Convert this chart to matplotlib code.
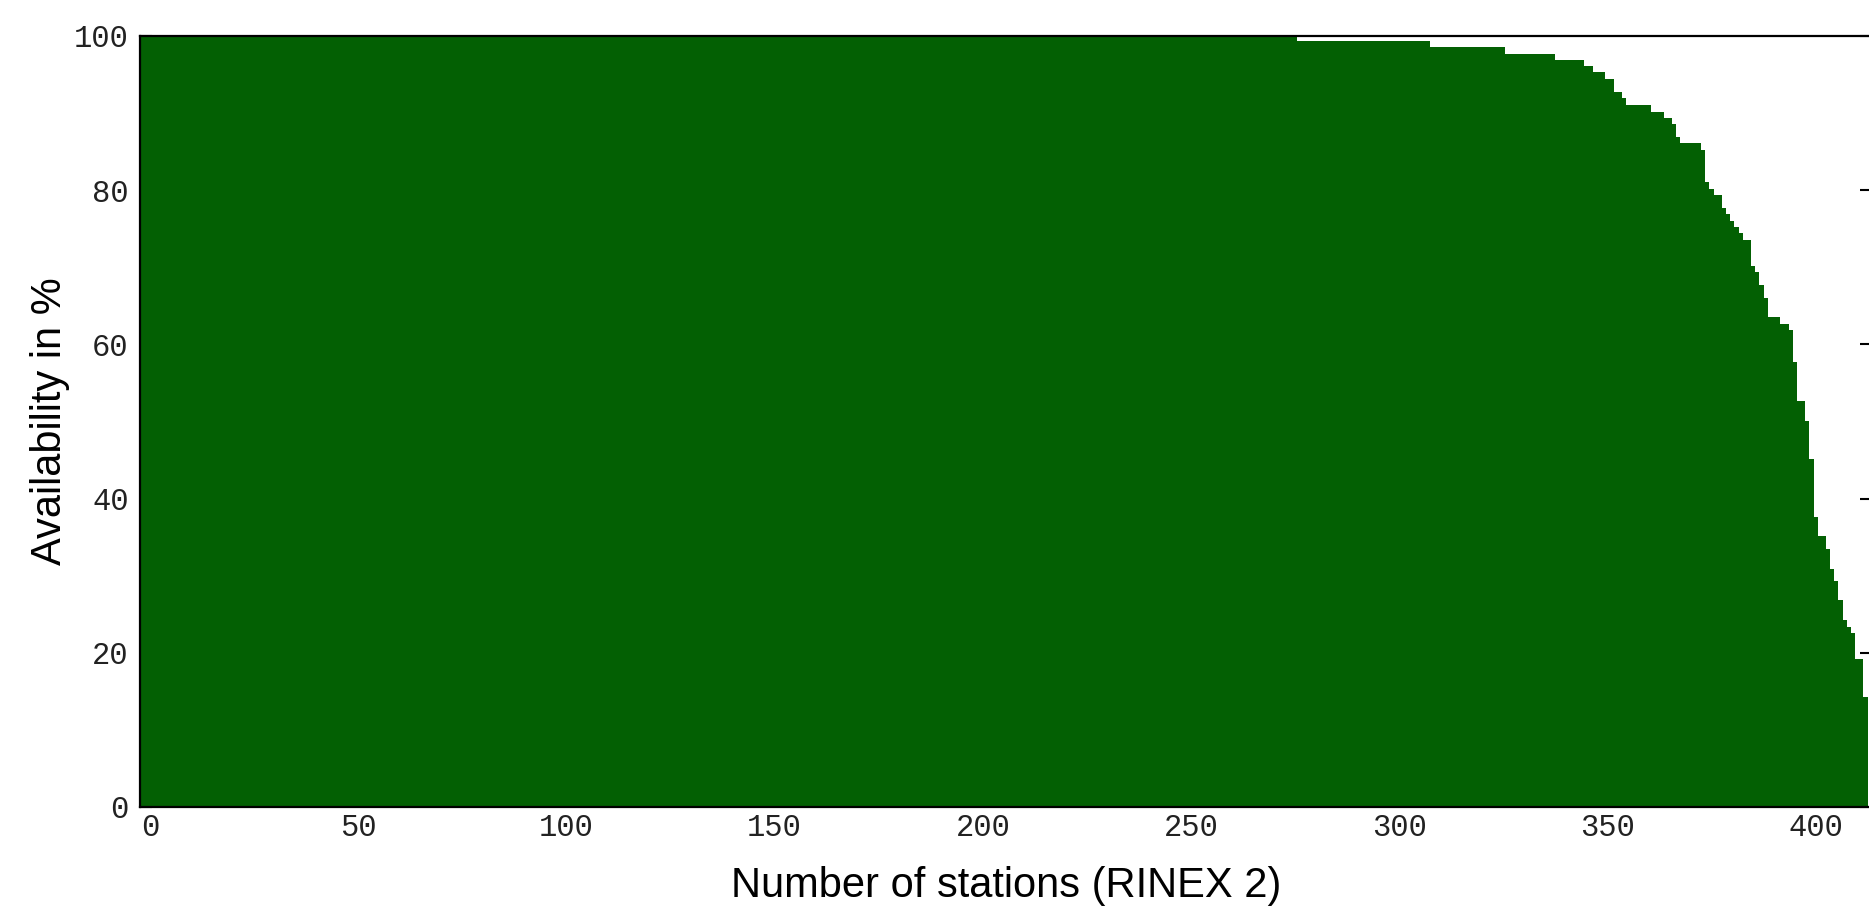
import numpy as np
import matplotlib
matplotlib.use("Agg")
import matplotlib.pyplot as plt

# availability per station, sorted descending, stored as runs of equal values
levels = [100.0, 99.4, 98.6, 97.7, 96.9, 96.1, 95.3, 94.4, 92.7, 91.9, 91.0,
          90.2, 89.4, 88.6, 86.9, 86.1, 85.2, 81.0, 80.2, 79.4, 77.7, 76.9,
          76.0, 75.2, 74.4, 73.5, 70.2, 69.4, 67.7, 66.0, 63.5, 62.6, 61.8,
          57.7, 52.6, 50.1, 45.1, 37.6, 35.1, 33.4, 30.9, 29.3, 26.8, 24.3,
          23.4, 22.6, 19.2, 14.2]
counts = [278, 32, 18, 12, 7, 2, 3, 2, 2, 1, 6,
          3, 2, 1, 1, 5, 1, 1, 1, 2, 1, 1,
          1, 1, 1, 2, 1, 1, 1, 1, 3, 2, 1,
          1, 2, 1, 1, 1, 2, 1, 1, 1, 1, 1,
          1, 1, 2, 1]
first_station = -2

xticks = [0, 50, 100, 150, 200, 250, 300, 350, 400]
yticks = [0, 20, 40, 60, 80, 100]

green = "#036003"

avail = np.repeat(levels, counts)
stations = first_station + np.arange(len(avail))

fig = plt.figure(figsize=(18.69, 9.10), dpi=100)
ax = fig.add_axes([0.0747, 0.1132, 0.9268, 0.8473])

# no antialiasing so neighbouring bars don't leave seams
ax.bar(stations, avail, width=1.0, color=green, linewidth=0,
       antialiased=False, zorder=3)

ax.set_xlim(-2.5, 413.5)
ax.set_ylim(0, 100)
ax.set_xticks(xticks)
ax.set_yticks(yticks)

tick_font = dict(family="Liberation Mono", size=22, color="#222222")
ax.set_xticklabels([str(t) for t in xticks], **tick_font)
ax.set_yticklabels([str(t) for t in yticks], **tick_font)

ax.tick_params(axis="x", length=0, pad=4)
ax.tick_params(axis="y", direction="in", length=8.5, width=1.5,
               left=True, right=True, pad=8)

for side in ("left", "bottom", "top", "right"):
    ax.spines[side].set_linewidth(1.6)
    ax.spines[side].set_zorder(4)

label_font = dict(family="Liberation Sans", size=30)
ax.set_xlabel("Number of stations (RINEX 2)", labelpad=17, **label_font)
ax.set_ylabel("Availability in %", **label_font)
ax.yaxis.set_label_coords(-0.040, 0.5)

fig.savefig("out.png", dpi=100)
